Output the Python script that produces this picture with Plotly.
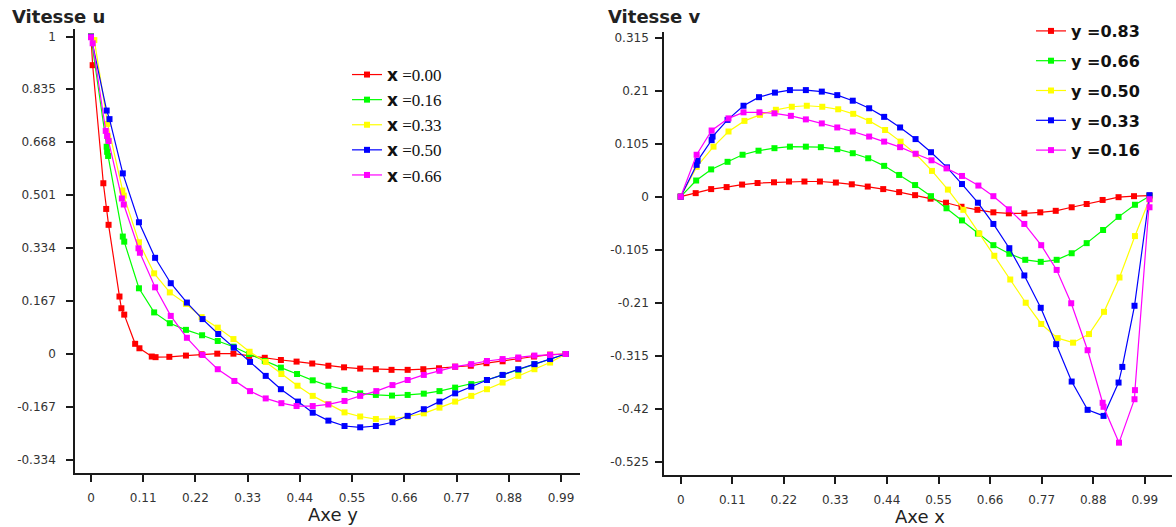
import plotly.graph_objects as go

W, H = 1176, 527

# ---------------- Left panel: Vitesse u vs Axe y ----------------
u_x000_y = [0, 0.0035, 0.026, 0.032, 0.037, 0.060, 0.064, 0.070, 0.093, 0.102, 0.128, 0.136, 0.165, 0.200,
            0.233, 0.266, 0.300, 0.333, 0.366, 0.400, 0.433, 0.466, 0.500, 0.533, 0.567, 0.600, 0.633, 0.667,
            0.700, 0.733, 0.767, 0.800, 0.833, 0.867, 0.900, 0.933, 0.967, 1.0]
u_x000 = [1.0, 0.910, 0.538, 0.457, 0.407, 0.181, 0.144, 0.124, 0.032, 0.018, -0.008, -0.010, -0.009, -0.005,
          -0.001, 0.001, 0.001, -0.006, -0.012, -0.019, -0.024, -0.030, -0.037, -0.042, -0.046, -0.048, -0.050,
          -0.050, -0.048, -0.045, -0.040, -0.037, -0.029, -0.023, -0.015, -0.008, -0.002, 0.0]

u_x016_y = [0, 0.033, 0.034, 0.036, 0.067, 0.070, 0.101, 0.133, 0.166, 0.200, 0.234, 0.267, 0.300, 0.333,
            0.366, 0.400, 0.434, 0.467, 0.500, 0.534, 0.567, 0.600, 0.634, 0.667, 0.701, 0.734, 0.767, 0.801,
            0.834, 0.867, 0.900, 0.934, 0.967, 1.0]
u_x016 = [1.0, 0.653, 0.637, 0.624, 0.370, 0.354, 0.207, 0.131, 0.097, 0.076, 0.059, 0.041, 0.023, 0.0,
          -0.022, -0.043, -0.063, -0.083, -0.100, -0.113, -0.124, -0.129, -0.131, -0.129, -0.125, -0.117,
          -0.106, -0.095, -0.082, -0.066, -0.050, -0.032, -0.016, 0.0]

u_x033_y = [0, 0.007, 0.035, 0.066, 0.069, 0.101, 0.133, 0.166, 0.200, 0.233, 0.267, 0.300, 0.334, 0.368,
            0.401, 0.435, 0.467, 0.500, 0.534, 0.567, 0.600, 0.634, 0.667, 0.701, 0.734, 0.767, 0.801, 0.834,
            0.867, 0.900, 0.934, 0.967, 1.0]
u_x033 = [1.0, 0.989, 0.725, 0.515, 0.499, 0.352, 0.254, 0.194, 0.158, 0.116, 0.083, 0.047, 0.007, -0.025,
          -0.063, -0.100, -0.132, -0.158, -0.184, -0.197, -0.205, -0.204, -0.197, -0.187, -0.169, -0.150,
          -0.132, -0.111, -0.090, -0.069, -0.048, -0.027, 0.0]

u_x050_y = [0, 0.033, 0.039, 0.067, 0.101, 0.135, 0.168, 0.202, 0.235, 0.268, 0.301, 0.335, 0.368, 0.400,
            0.436, 0.467, 0.500, 0.534, 0.567, 0.600, 0.635, 0.667, 0.701, 0.734, 0.767, 0.801, 0.834, 0.867,
            0.900, 0.934, 0.967, 1.0]
u_x050 = [1.0, 0.767, 0.740, 0.569, 0.415, 0.303, 0.223, 0.162, 0.110, 0.063, 0.020, -0.025, -0.069, -0.111,
          -0.150, -0.185, -0.210, -0.227, -0.231, -0.227, -0.215, -0.195, -0.174, -0.150, -0.124, -0.103,
          -0.082, -0.066, -0.048, -0.032, -0.016, 0.0]

u_x066_y = [0, 0.0035, 0.031, 0.034, 0.037, 0.065, 0.069, 0.100, 0.103, 0.135, 0.168, 0.202, 0.235, 0.267,
            0.302, 0.335, 0.368, 0.401, 0.433, 0.467, 0.500, 0.534, 0.567, 0.601, 0.635, 0.667, 0.701, 0.734,
            0.767, 0.801, 0.834, 0.867, 0.900, 0.934, 0.967, 1.0]
u_x066 = [0.998, 0.979, 0.703, 0.687, 0.671, 0.490, 0.471, 0.333, 0.319, 0.210, 0.120, 0.051, -0.003, -0.048,
          -0.085, -0.117, -0.140, -0.155, -0.164, -0.164, -0.159, -0.148, -0.132, -0.117, -0.098, -0.082,
          -0.066, -0.053, -0.040, -0.032, -0.022, -0.016, -0.011, -0.005, -0.003, 0.0]

# ---------------- Right panel: Vitesse v vs Axe x ----------------
v_y083_x = [0, 0.032, 0.065, 0.098, 0.131, 0.164, 0.199, 0.231, 0.264, 0.297, 0.331, 0.365, 0.399, 0.432,
            0.466, 0.500, 0.533, 0.566, 0.599, 0.633, 0.667, 0.700, 0.733, 0.767, 0.800, 0.834, 0.866, 0.900,
            0.934, 0.967, 1.0]
v_y083 = [0.0, 0.007, 0.015, 0.019, 0.024, 0.027, 0.0285, 0.030, 0.030, 0.030, 0.028, 0.0245, 0.020, 0.015,
          0.009, 0.003, -0.004, -0.012, -0.020, -0.026, -0.031, -0.033, -0.033, -0.031, -0.028, -0.021,
          -0.0145, -0.0065, -0.001, 0.001, 0.002]

v_y066_x = [0, 0.033, 0.065, 0.100, 0.132, 0.166, 0.200, 0.233, 0.267, 0.299, 0.334, 0.367, 0.400, 0.434,
            0.466, 0.500, 0.534, 0.567, 0.600, 0.634, 0.667, 0.701, 0.735, 0.768, 0.802, 0.834, 0.866, 0.901,
            0.934, 0.969, 1.0]
v_y066 = [0.0, 0.032, 0.054, 0.069, 0.083, 0.091, 0.096, 0.099, 0.099, 0.098, 0.094, 0.086, 0.076, 0.061,
          0.043, 0.023, 0.001, -0.023, -0.047, -0.073, -0.096, -0.113, -0.125, -0.129, -0.125, -0.112,
          -0.092, -0.066, -0.040, -0.016, 0.001]

v_y050_x = [0, 0.034, 0.070, 0.102, 0.136, 0.169, 0.203, 0.237, 0.269, 0.302, 0.336, 0.368, 0.402, 0.436,
            0.469, 0.502, 0.536, 0.570, 0.603, 0.637, 0.669, 0.703, 0.736, 0.769, 0.804, 0.837, 0.871, 0.903,
            0.936, 0.969, 1.0]
v_y050 = [0.0, 0.059, 0.099, 0.129, 0.150, 0.162, 0.172, 0.178, 0.180, 0.178, 0.173, 0.164, 0.150, 0.132,
          0.109, 0.084, 0.051, 0.014, -0.026, -0.073, -0.117, -0.164, -0.210, -0.252, -0.280, -0.289,
          -0.272, -0.228, -0.160, -0.078, -0.005]

v_y033_x = [0, 0.034, 0.036, 0.066, 0.068, 0.100, 0.134, 0.167, 0.201, 0.233, 0.267, 0.301, 0.334, 0.367,
            0.402, 0.434, 0.468, 0.501, 0.534, 0.568, 0.600, 0.634, 0.667, 0.701, 0.733, 0.768, 0.801, 0.834,
            0.868, 0.902, 0.934, 0.942, 0.968, 1.0]
v_y033 = [0.0, 0.063, 0.071, 0.112, 0.119, 0.152, 0.180, 0.197, 0.206, 0.211, 0.211, 0.208, 0.201, 0.190,
          0.175, 0.158, 0.137, 0.114, 0.088, 0.058, 0.025, -0.012, -0.054, -0.102, -0.156, -0.220, -0.292,
          -0.366, -0.422, -0.434, -0.368, -0.337, -0.216, 0.003]

v_y016_x = [0, 0.034, 0.066, 0.102, 0.134, 0.168, 0.200, 0.235, 0.267, 0.301, 0.334, 0.367, 0.402, 0.434,
            0.468, 0.501, 0.535, 0.567, 0.600, 0.635, 0.667, 0.700, 0.733, 0.769, 0.802, 0.833, 0.868, 0.900,
            0.902, 0.935, 0.968, 0.969, 1.0, 1.0]
v_y016 = [0.0, 0.083, 0.131, 0.155, 0.167, 0.167, 0.165, 0.160, 0.153, 0.145, 0.137, 0.129, 0.119, 0.109,
          0.098, 0.085, 0.072, 0.056, 0.041, 0.022, 0.001, -0.025, -0.054, -0.096, -0.145, -0.211, -0.304,
          -0.408, -0.416, -0.487, -0.401, -0.383, -0.021, -0.005]

# tick labels
u_ticks = [-0.334, -0.167, 0, 0.167, 0.334, 0.501, 0.668, 0.835, 1]
v_ticks = [-0.525, -0.42, -0.315, -0.21, -0.105, 0, 0.105, 0.21, 0.315]
x_ticks = [0, 0.11, 0.22, 0.33, 0.44, 0.55, 0.66, 0.77, 0.88, 0.99]

left_names = ["0.00", "0.16", "0.33", "0.50", "0.66"]
right_names = ["0.83", "0.66", "0.50", "0.33", "0.16"]
colors = ["#ff0000", "#00ff00", "#ffff00", "#0000ff", "#ff00ff"]

left_series = [(u_x000_y, u_x000), (u_x016_y, u_x016), (u_x033_y, u_x033), (u_x050_y, u_x050), (u_x066_y, u_x066)]
right_series = [(v_y083_x, v_y083), (v_y066_x, v_y066), (v_y050_x, v_y050), (v_y033_x, v_y033), (v_y016_x, v_y016)]

fig = go.Figure()

for i, ((xs, ys), nm, c) in enumerate(zip(left_series, left_names, colors)):
    fig.add_trace(go.Scatter(
        x=xs, y=ys, mode="lines+markers",
        name="<span style='font-family:DejaVu Sans'><b>x</b></span> =" + nm,
        line=dict(color=c, width=1.2),
        marker=dict(symbol="square", size=6, color=c, line=dict(width=0)),
        xaxis="x", yaxis="y", legend="legend", legendgroup="L%d" % i))

for i, ((xs, ys), nm, c) in enumerate(zip(right_series, right_names, colors)):
    fig.add_trace(go.Scatter(
        x=xs, y=ys, mode="lines+markers",
        name="<b>y =" + nm + "</b>",
        line=dict(color=c, width=1.2),
        marker=dict(symbol="square", size=6, color=c, line=dict(width=0)),
        xaxis="x2", yaxis="y2", legend="legend2", legendgroup="R%d" % i))


def px_x(p):
    return p / W


def px_y(p):
    return 1 - p / H


axis_common = dict(showgrid=False, zeroline=False, showline=True, linecolor="#1a1a1a", linewidth=1.5,
                   ticks="outside", ticklen=7, tickwidth=1.5, tickcolor="#1a1a1a",
                   tickfont=dict(family="DejaVu Sans", size=12, color="#333333"))

fig.update_layout(
    width=W, height=H,
    margin=dict(l=0, r=0, t=0, b=0),
    paper_bgcolor="white", plot_bgcolor="white",
    font=dict(family="DejaVu Sans", color="#222222"),
    xaxis=dict(domain=[px_x(75), px_x(580)], range=[-0.0337, 1.030], anchor="y",
               tickvals=x_ticks, ticktext=[("%g" % t) for t in x_ticks], ticklabelstandoff=6, **axis_common),
    yaxis=dict(domain=[px_y(473), px_y(29)], range=[-0.375, 1.024], anchor="x",
               tickvals=u_ticks, ticktext=[("%g" % t) for t in u_ticks], ticklabelstandoff=8, **axis_common),
    xaxis2=dict(domain=[px_x(664), px_x(1172)], range=[-0.0356, 1.048], anchor="y2",
                tickvals=x_ticks, ticktext=[("%g" % t) for t in x_ticks], ticklabelstandoff=6, **axis_common),
    yaxis2=dict(domain=[px_y(475), px_y(32)], range=[-0.551, 0.326], anchor="x2",
                tickvals=v_ticks, ticktext=[("%g" % t) for t in v_ticks], ticklabelstandoff=4, **axis_common),
    legend=dict(x=px_x(347), y=px_y(57), xanchor="left", yanchor="top", bgcolor="rgba(0,0,0,0)",
                font=dict(family="Liberation Serif", size=17, color="#111111"), tracegroupgap=0,
                itemwidth=30),
    legend2=dict(x=px_x(1031), y=px_y(14), xanchor="left", yanchor="top", bgcolor="rgba(0,0,0,0)",
                 font=dict(family="DejaVu Sans", size=16, color="#111111"), tracegroupgap=6,
                 itemwidth=30),
    annotations=[
        dict(text="<b>Vitesse u</b>", x=px_x(10), y=px_y(16), xref="paper", yref="paper",
             xanchor="left", yanchor="middle", showarrow=False,
             font=dict(family="DejaVu Sans", size=18, color="#222222")),
        dict(text="<b>Vitesse v</b>", x=px_x(606), y=px_y(17), xref="paper", yref="paper",
             xanchor="left", yanchor="middle", showarrow=False,
             font=dict(family="DejaVu Sans", size=18, color="#222222")),
        dict(text="Axe y", x=px_x(333), y=px_y(514), xref="paper", yref="paper",
             xanchor="center", yanchor="middle", showarrow=False,
             font=dict(family="DejaVu Sans", size=18, color="#222222")),
        dict(text="Axe x", x=px_x(920), y=px_y(516), xref="paper", yref="paper",
             xanchor="center", yanchor="middle", showarrow=False,
             font=dict(family="DejaVu Sans", size=18, color="#222222")),
    ],
)

fig.write_html("out.html", config={"displayModeBar": False},
               post_script="document.body.style.margin='0px';document.body.style.padding='0px';")
